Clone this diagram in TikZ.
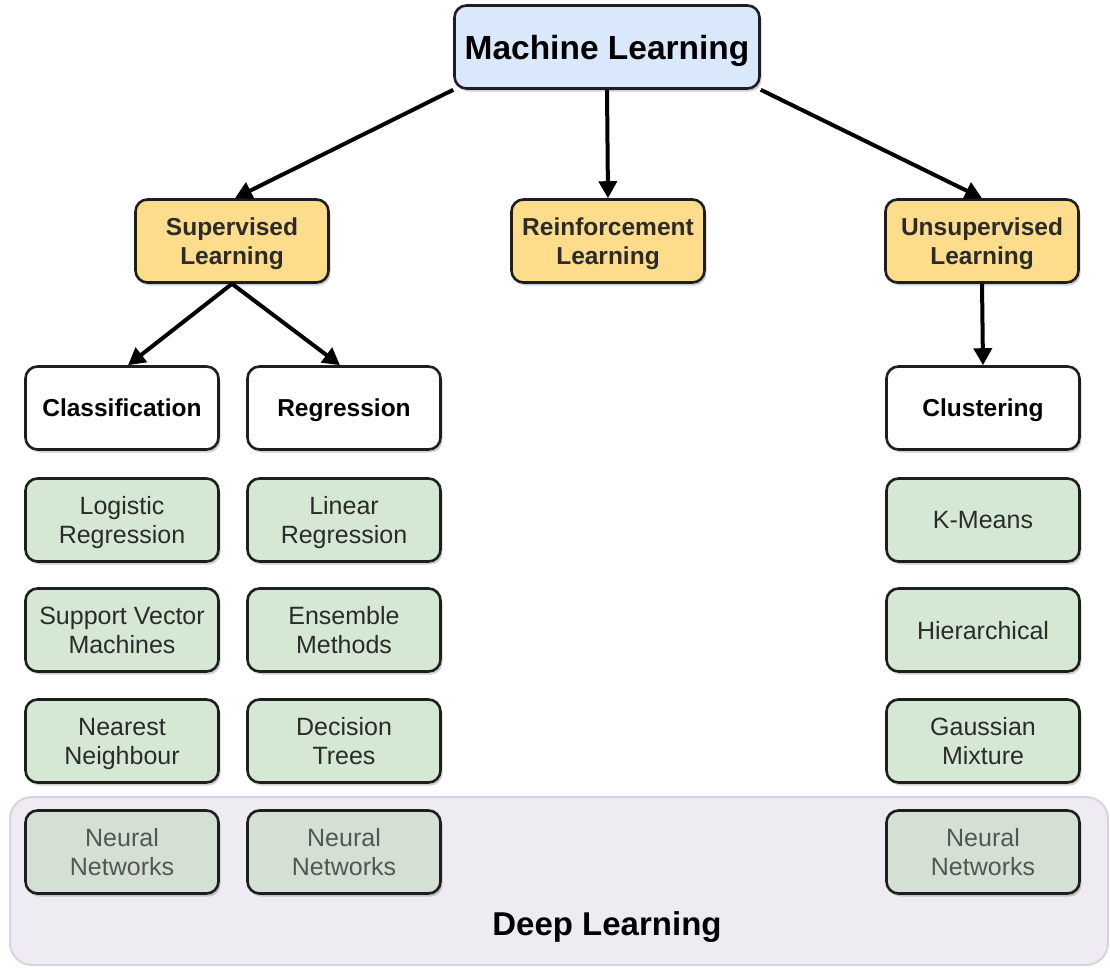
\documentclass[tikz,border=0pt]{standalone}
\usepackage{fontspec}
\setmainfont{Liberation Sans}
\usetikzlibrary{arrows.meta,shadows}
\definecolor{mlblue}{HTML}{DAE8FC}
\definecolor{supyel}{HTML}{FDDC8C}
\definecolor{algreen}{HTML}{D5E8D4}
\definecolor{nngreen}{HTML}{D4E0D3}
\definecolor{dlfill}{HTML}{EEEBF2}
\definecolor{dlborder}{HTML}{DCD0E3}
\definecolor{edgecol}{HTML}{1E1E1E}
\definecolor{txtcol}{HTML}{2B2B2B}
\definecolor{nntxt}{HTML}{555555}
\begin{document}
\begin{tikzpicture}[x=1pt,y=-1pt,
  box/.style={draw=edgecol,line width=2.6pt,rounded corners=12pt,align=center,
    inner sep=0pt,minimum width=193pt,minimum height=83pt,text depth=-3pt,
    drop shadow={shadow xshift=2pt,shadow yshift=-3pt,opacity=0.18,fill=black}},
  topbox/.style={box,fill=mlblue,minimum width=305pt,font=\fontsize{33.5}{38}\selectfont\bfseries},
  catbox/.style={box,fill=supyel,font=\fontsize{24.5}{29}\selectfont\bfseries,text=txtcol},
  subbox/.style={box,fill=white,font=\fontsize{24.5}{29}\selectfont\bfseries},
  algbox/.style={box,fill=algreen,font=\fontsize{25}{29}\selectfont,text=txtcol},
  nnbox/.style={box,fill=nngreen,font=\fontsize{25}{29}\selectfont,text=nntxt},
  arr/.style={line width=4pt,draw=black,-{Triangle[length=17pt,width=18pt]}},
]
\useasboundingbox (0,0) rectangle (1110,970);
% Deep learning region
\node[draw=dlborder,fill=dlfill,line width=2pt,rounded corners=22pt,
  minimum width=1098pt,minimum height=168pt,inner sep=0pt] (dl) at (559,881) {};
\node[font=\fontsize{33}{38}\selectfont\bfseries] (dltext) at (607,927) {Deep Learning};

\node[topbox] (ml) at (607,47) {Machine Learning};
\node[catbox] (sup) at (232,241) {Supervised\\Learning};
\node[catbox] (rl) at (608,241) {Reinforcement\\Learning};
\node[catbox] (uns) at (982,241) {Unsupervised\\Learning};

\node[subbox] (cls) at (122,408) {Classification};
\node[subbox] (reg) at (344,408) {Regression};
\node[subbox] (clu) at (983,408) {Clustering};

\node[algbox] (lr) at (122,520) {Logistic\\Regression};
\node[algbox] (svm) at (122,630) {Support Vector\\Machines};
\node[algbox] (nn) at (122,741) {Nearest\\Neighbour};
\node[nnbox] (nn1) at (122,852) {Neural\\Networks};

\node[algbox] (lin) at (344,520) {Linear\\Regression};
\node[algbox] (ens) at (344,630) {Ensemble\\Methods};
\node[algbox] (dt) at (344,741) {Decision\\Trees};
\node[nnbox] (nn2) at (344,852) {Neural\\Networks};

\node[algbox] (km) at (983,520) {K-Means};
\node[algbox] (hier) at (983,630) {Hierarchical};
\node[algbox] (gm) at (983,741) {Gaussian\\Mixture};
\node[nnbox] (nn3) at (983,852) {Neural\\Networks};

\draw[arr] (ml.south west) -- ([xshift=3pt]sup.north);
\draw[arr] (ml.south) -- (rl.north);
\draw[arr] (ml.south east) -- (uns.north);
\draw[arr] (sup.south) -- ([xshift=6pt]cls.north);
\draw[arr] (sup.south) -- ([xshift=-4pt]reg.north);
\draw[arr] (uns.south) -- (clu.north);
\end{tikzpicture}
\end{document}
